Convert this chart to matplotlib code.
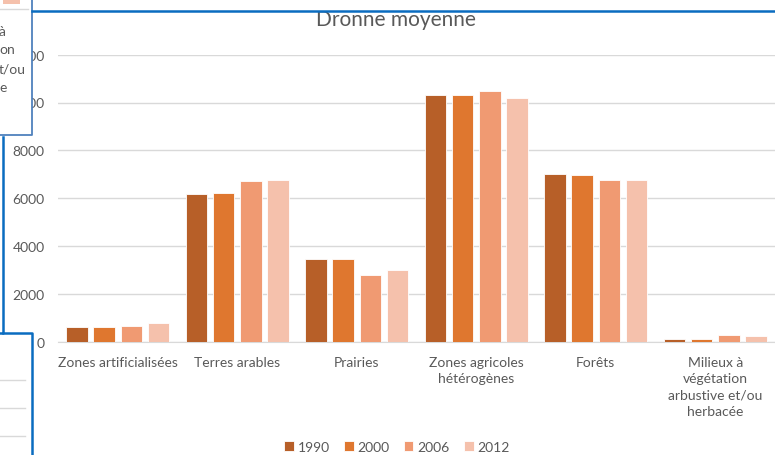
import matplotlib
matplotlib.use("Agg")
import matplotlib.pyplot as plt
import numpy as np
from matplotlib.lines import Line2D
from matplotlib.patches import Rectangle

categories = ["Zones artificialisées", "Terres arables", "Prairies",
              "Zones agricoles\nhétérogènes", "Forêts",
              "Milieux à\nvégétation\narbustive et/ou\nherbacée"]
years = ["1990", "2000", "2006", "2012"]
v1990 = [610, 6180, 3470, 10310, 7010, 120]
v2000 = [625, 6210, 3470, 10310, 6990, 120]
v2006 = [655, 6710, 2800, 10500, 6760, 310]
v2012 = [780, 6760, 3010, 10190, 6750, 270]
series = [v1990, v2000, v2006, v2012]
colors = ["#B75F28", "#DF772F", "#F09A72", "#F5C1AC"]
yticks = [0, 2000, 4000, 6000, 8000, 10000, 12000]

W, H = 775, 456
fig = plt.figure(figsize=(W / 100, H / 100), dpi=100)
fig.patch.set_facecolor("white")
plt.rcParams["font.family"] = ["Lato", "DejaVu Sans"]

left, right, top, bottom = 58, 775, 55.6, 343
ax = fig.add_axes([left / W, 1 - bottom / H, (right - left) / W, (bottom - top) / H])
ax.set_xlim(-0.5, len(categories) - 0.5)
ax.set_ylim(0, 12000)

x = np.arange(len(categories))
step = 0.228
bw = 0.18
for i, (vals, c) in enumerate(zip(series, colors)):
    ax.bar(x + (i - 1.5) * step, vals, width=bw, color=c, edgecolor="white",
           linewidth=0.6, label=years[i], zorder=3)

ax.set_yticks(yticks)
ax.set_yticklabels([str(t) for t in yticks])
ax.set_xticks(x)
ax.set_xticklabels(categories, linespacing=1.45)
ax.tick_params(axis="both", length=0, colors="#595959", labelsize=10)
ax.tick_params(axis="y", pad=9.5)
ax.tick_params(axis="x", pad=10)
ax.grid(axis="y", color="#D9D9D9", linewidth=1, zorder=0)
for s in ["top", "right", "left"]:
    ax.spines[s].set_visible(False)
ax.spines["bottom"].set_color("#D9D9D9")
ax.set_axisbelow(True)

fig.text(396 / W, 1 - 20 / H, "Dronne moyenne", ha="center", va="center",
         fontsize=15, color="#595959")

leg = fig.legend(loc="center", bbox_to_anchor=(397 / W, 1 - 448 / H), ncol=4,
                 frameon=False, fontsize=10, handlelength=0.7, handleheight=0.7,
                 handletextpad=0.3, columnspacing=1.0)
for t in leg.get_texts():
    t.set_color("#595959")

def fx(px):
    return px / W

def fy(py):
    return 1 - py / H

# Overlapping window fragments
fig.patches.append(Rectangle((0, fy(137)), fx(32), fy(0) - fy(137),
                             transform=fig.transFigure, facecolor="white",
                             edgecolor="none", zorder=5))
fig.patches.append(Rectangle((fx(3), fy(5)), fx(17), fy(0) - fy(5),
                             transform=fig.transFigure, facecolor="#F5C1AC",
                             edgecolor="none", zorder=6))
fig.lines.append(Line2D([0, fx(28)], [fy(10), fy(10)], transform=fig.transFigure,
                        color="#D9D9D9", lw=1, zorder=6))
for txt, yy in [("à", 32), ("on", 50), ("t/ou", 69), ("e", 88)]:
    fig.text(fx(-1), fy(yy), txt, ha="left", va="center", fontsize=10,
             color="#595959", zorder=7)
fig.lines.append(Line2D([fx(32), fx(32), 0], [1, fy(136), fy(136)],
                        transform=fig.transFigure, color="#4F81BD", lw=1.3, zorder=8))

fig.patches.append(Rectangle((0, 0), fx(32), fy(334),
                             transform=fig.transFigure, facecolor="white",
                             edgecolor="none", zorder=5))
for yy in [381, 409, 437]:
    fig.lines.append(Line2D([0, fx(25)], [fy(yy), fy(yy)], transform=fig.transFigure,
                            color="#D9D9D9", lw=1, zorder=6))

blue = "#0A6CC0"
fig.lines.append(Line2D([fx(32), 1], [fy(12), fy(12)], transform=fig.transFigure,
                        color=blue, lw=1.8, zorder=9))
fig.lines.append(Line2D([fx(3), fx(3), 0], [fy(138), fy(334), fy(334)],
                        transform=fig.transFigure, color=blue, lw=1.8, zorder=9))
fig.lines.append(Line2D([fx(3), fx(32), fx(32)], [fy(334), fy(334), 0],
                        transform=fig.transFigure, color=blue, lw=1.8, zorder=9))

fig.savefig("out.png", dpi=100, facecolor="white")
